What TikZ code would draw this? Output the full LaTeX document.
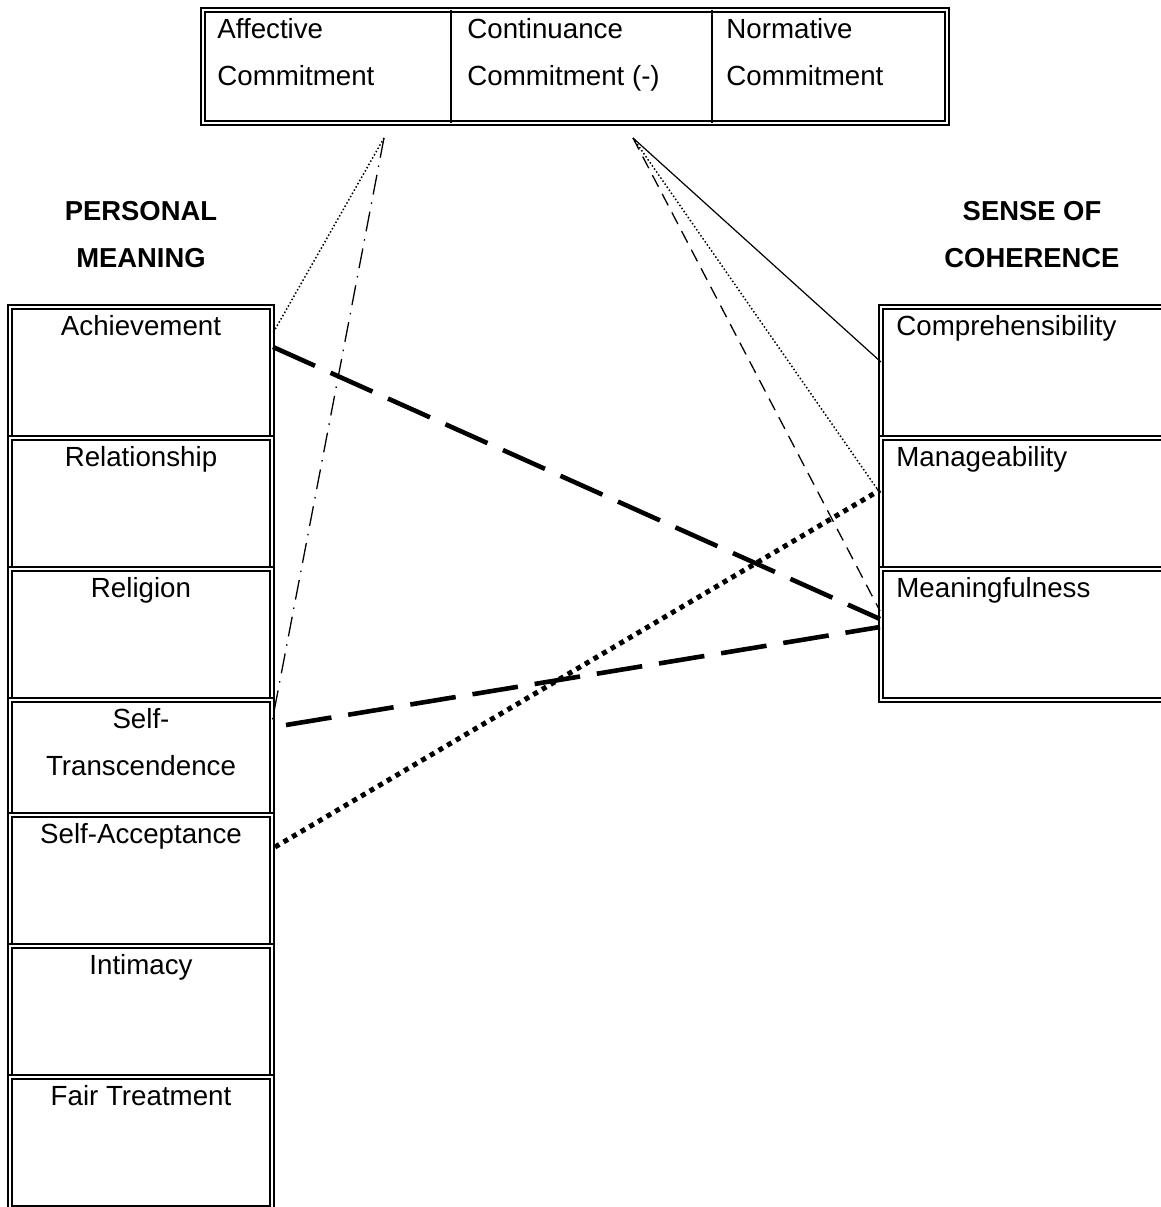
\documentclass[tikz,border=0pt]{standalone}
\usepackage{fontspec}
\setmainfont{Liberation Sans}
\begin{document}
\begin{tikzpicture}[x=0.5pt,y=-0.5pt,
  cell/.style={draw, line width=0.7pt, double, double distance=1.2pt, inner sep=0pt, outer sep=0pt, anchor=north west},
  lbl/.style={inner sep=0pt, font=\fontsize{13.85pt}{23.5pt}\selectfont, align=center, anchor=base},
  lblw/.style={lbl, align=left, anchor=base west},
  hdr/.style={lbl, font=\fontsize{13.7pt}{23.5pt}\selectfont\bfseries},
  divider/.style={line width=0.8pt},
  solidthin/.style={line width=0.6pt},
  thindot/.style={line width=0.75pt, dash pattern=on 0.75pt off 1.1pt},
  thindash/.style={line width=0.65pt, dash pattern=on 6.5pt off 4pt},
  dashdotline/.style={line width=0.65pt, dash pattern=on 10pt off 4pt on 0.75pt off 4pt},
  thickdash/.style={line width=2.3pt, dash pattern=on 23pt off 8.5pt},
  thickdot/.style={line width=2.5pt, dash pattern=on 2.5pt off 2.5pt}
]
\clip (0,0) rectangle (1161,1207);
\fill[white] (0,0) rectangle (1161,1207);

% top box
\node[cell, minimum width=372pt, minimum height=56.5pt] (top) at (203,10) {};
\draw[divider] (top.north -| 451,0) -- (top.south -| 451,0);
\draw[divider] (top.north -| 712,0) -- (top.south -| 712,0);
\node[lblw] (aff) at (217,85) {Affective\\Commitment};
\node[lblw] (cont) at (467,85) {Continuance\\Commitment (-)};
\node[lblw] (norm) at (726,85) {Normative\\Commitment};

% headers
\node[hdr] (pm) at (141,267) {PERSONAL\\MEANING};
\node[hdr] (soc) at (1032,267) {SENSE OF\\COHERENCE};

% left column
\node[cell, minimum width=131pt, minimum height=65.5pt] (ach) at (10,307) {};
\node[cell, minimum width=131pt, minimum height=65.5pt] (rel) at (10,438) {};
\node[cell, minimum width=131pt, minimum height=65.5pt] (relg) at (10,569) {};
\node[cell, minimum width=131pt, minimum height=57.5pt] (st) at (10,700) {};
\node[cell, minimum width=131pt, minimum height=65.5pt] (sa) at (10,815) {};
\node[cell, minimum width=131pt, minimum height=65.5pt] (int) at (10,946) {};
\node[cell, minimum width=131pt, minimum height=65.5pt] (ft) at (10,1077) {};
\node[lbl] (achT) at (141,335) {Achievement};
\node[lbl] (relT) at (141,466) {Relationship};
\node[lbl] (relgT) at (141,597) {Religion};
\node[lbl] (stT) at (141,775) {Self-\\Transcendence};
\node[lbl] (saT) at (141,843) {Self-Acceptance};
\node[lbl] (intT) at (141,974) {Intimacy};
\node[lbl] (ftT) at (141,1105) {Fair Treatment};

% right column
\node[cell, minimum width=184.5pt, minimum height=65.5pt] (comp) at (881,307) {};
\node[cell, minimum width=184.5pt, minimum height=65.5pt] (man) at (881,438) {};
\node[cell, minimum width=184.5pt, minimum height=65.5pt] (mean) at (881,569) {};
\node[lblw] (compT) at (896,335) {Comprehensibility};
\node[lblw] (manT) at (896,466) {Manageability};
\node[lblw] (meanT) at (896,597) {Meaningfulness};

% connector end points
\coordinate (affP) at (384,138);
\coordinate (contP) at (633,138);
\coordinate (achP1) at (273,333);
\coordinate (achP2) at (273,347);
\coordinate (stP1) at (272,722);
\coordinate (stP2) at (286,725);
\coordinate (saP) at (275,847);
\coordinate (compP) at (881,362);
\coordinate (manP1) at (880,493);
\coordinate (manP2) at (880,490);
\coordinate (meanP1) at (880,611);
\coordinate (meanP2) at (880,619);
\coordinate (meanP3) at (880,627);

% connectors
\draw[thindot] (affP) -- (achP1);
\draw[dashdotline] (affP) -- (stP1);
\draw[solidthin] (contP) -- (compP);
\draw[thindot] (contP) -- (manP1);
\draw[thindash] (contP) -- (meanP1);
\draw[thickdash] (achP2) -- (meanP2);
\draw[thickdash] (stP2) -- (meanP3);
\draw[thickdot] (saP) -- (manP2);
\end{tikzpicture}
\end{document}
